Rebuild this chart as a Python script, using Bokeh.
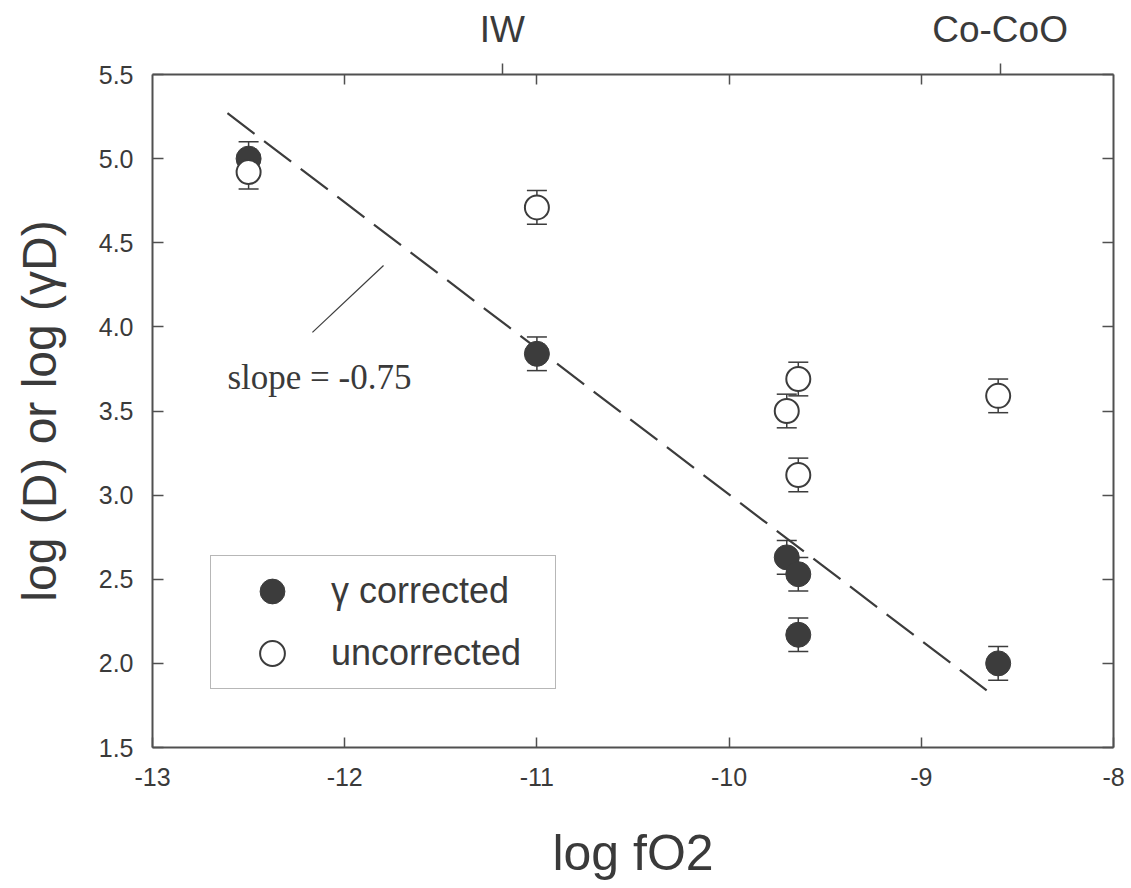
from bokeh.plotting import figure
from bokeh.models import (LinearAxis, FixedTicker, Whisker, TeeHead, ColumnDataSource,
                          Label, Legend, LegendItem, Range1d, PrintfTickFormatter)
from bokeh.embed import file_html
from bokeh.resources import INLINE

# ---- data ----
corr_x = [-12.50, -11.00, -9.70, -9.64, -9.64, -8.60]
corr_y = [5.00, 3.84, 2.63, 2.53, 2.17, 2.00]
unc_x = [-12.50, -11.00, -9.64, -9.70, -9.64, -8.60]
unc_y = [4.92, 4.71, 3.69, 3.50, 3.12, 3.59]
err = 0.10

fit_x = [-12.61, -8.66]
fit_y = [5.27, 1.84]

x_ticks = [-13, -12, -11, -10, -9, -8]
y_ticks = [1.5, 2.0, 2.5, 3.0, 3.5, 4.0, 4.5, 5.0, 5.5]
buffer_x = [-11.18, -8.59]
buffer_labels = ["IW", "Co-CoO"]

slope_text = "slope = -0.75"
slope_pos = (-12.61, 3.70)
leader_x = [-12.168, -11.798]
leader_y = [3.967, 4.365]

DARK = "#3c3c3c"
AXIS = "#505050"
TXT = "#3a3a3a"
SANS = "Liberation Sans"

p = figure(width=1131, height=888, output_backend="svg", toolbar_location=None,
           x_range=Range1d(-13, -8), y_range=Range1d(1.5, 5.5),
           x_axis_location=None, y_axis_location=None,
           min_border_left=152, min_border_right=18, min_border_top=74, min_border_bottom=141)
p.grid.visible = False
p.outline_line_color = None
p.background_fill_color = "white"
p.border_fill_color = "white"


def style_axis(ax):
    ax.axis_line_color = AXIS
    ax.axis_line_width = 2
    ax.major_tick_line_color = AXIS
    ax.major_tick_line_width = 1.5
    ax.minor_tick_line_color = AXIS
    ax.minor_tick_line_width = 1.5
    ax.major_label_text_color = TXT
    ax.major_label_text_font = SANS
    ax.axis_label_text_color = TXT
    ax.axis_label_text_font = SANS
    ax.axis_label_text_font_style = "normal"


# bottom axis
xb = LinearAxis(ticker=FixedTicker(ticks=x_ticks), axis_label="log fO2",
                formatter=PrintfTickFormatter(format="%d"))
style_axis(xb)
xb.major_tick_in = 10
xb.major_tick_out = 0
xb.major_label_standoff = 20
xb.major_label_text_font_size = "25px"
xb.axis_label_text_font_size = "50px"
xb.axis_label_standoff = 36
p.add_layout(xb, "below")

# left axis
yl = LinearAxis(ticker=FixedTicker(ticks=y_ticks), axis_label="log (D) or log (\u03b3D)",
                formatter=PrintfTickFormatter(format="%.1f"))
style_axis(yl)
yl.major_tick_in = 11
yl.major_tick_out = 0
yl.major_label_standoff = 19
yl.major_label_text_font_size = "25px"
yl.axis_label_text_font_size = "48px"
yl.axis_label_standoff = 30
p.add_layout(yl, "left")

# top axis: buffer labels with outward ticks, integer ticks inward (as minor ticks)
xt = LinearAxis(ticker=FixedTicker(ticks=buffer_x, minor_ticks=x_ticks[1:-1]))
style_axis(xt)
xt.major_tick_in = 0
xt.major_tick_out = 11
xt.minor_tick_in = 10
xt.minor_tick_out = 0
xt.major_label_overrides = {bx: lab for bx, lab in zip(buffer_x, buffer_labels)}
xt.major_label_standoff = 14
xt.major_label_text_font_size = "37px"
p.add_layout(xt, "above")

# right axis: inward ticks only, no labels (ticks given as minor ticks)
yr = LinearAxis(ticker=FixedTicker(ticks=[], minor_ticks=y_ticks))
style_axis(yr)
yr.major_tick_in = 0
yr.major_tick_out = 0
yr.minor_tick_in = 11
yr.minor_tick_out = 0
p.add_layout(yr, "right")

# dashed fit line
p.line(fit_x, fit_y, line_color=DARK, line_width=2.2, line_dash="34 12")

# slope annotation
p.line(leader_x, leader_y, line_color=DARK, line_width=1.2)
p.add_layout(Label(x=slope_pos[0], y=slope_pos[1], text=slope_text,
                   text_font="Liberation Serif", text_font_size="35px",
                   text_color=TXT, text_baseline="alphabetic"))

# error bars
src_c = ColumnDataSource(dict(x=corr_x, y=corr_y,
                              lo=[v - err for v in corr_y], hi=[v + err for v in corr_y]))
src_u = ColumnDataSource(dict(x=unc_x, y=unc_y,
                              lo=[v - err for v in unc_y], hi=[v + err for v in unc_y]))
for src in (src_c, src_u):
    w = Whisker(source=src, base="x", lower="lo", upper="hi",
                line_color=DARK, line_width=1.5,
                upper_head=TeeHead(size=20, line_color=DARK, line_width=1.5),
                lower_head=TeeHead(size=20, line_color=DARK, line_width=1.5))
    p.add_layout(w)

r_c = p.scatter("x", "y", source=src_c, size=25, marker="circle",
                fill_color=DARK, line_color=DARK, line_width=1)
r_u = p.scatter("x", "y", source=src_u, size=24, marker="circle",
                fill_color="white", line_color=DARK, line_width=2)

legend = Legend(items=[LegendItem(label="\u03b3 corrected", renderers=[r_c]),
                       LegendItem(label="uncorrected", renderers=[r_u])],
                location=(58, 58), margin=0, padding=4, spacing=0,
                glyph_width=114, glyph_height=62, label_standoff=2, label_width=220,
                label_text_font=SANS, label_text_font_size="36px", label_text_color=TXT,
                border_line_color="#707070", border_line_width=1.5,
                background_fill_color="white", background_fill_alpha=1.0)
p.add_layout(legend)

open("out.html", "w").write(file_html(p, INLINE))
